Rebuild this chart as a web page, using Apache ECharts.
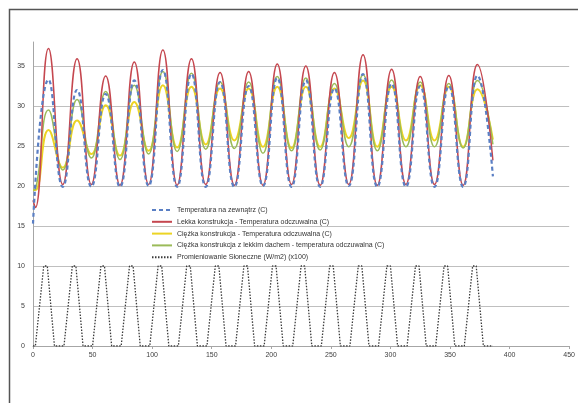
<!DOCTYPE html>
<html>
<head>
<meta charset="utf-8">
<script src="https://cdn.jsdelivr.net/npm/echarts@6/dist/echarts.min.js"></script>
<style>html,body{margin:0;padding:0;background:#fff;}#c{width:578px;height:403px;}</style>
</head>
<body>
<div id="c"></div>
<script>
// ---- data ----
const seriesNames = [
  'Temperatura na zewnątrz (C)',
  'Lekka konstrukcja - Temperatura odczuwalna (C)',
  'Ciężka konstrukcja - Temperatura odczuwalna (C)',
  'Ciężka konstrukcja z lekkim dachem - temperatura odczuwalna (C)',
  'Promieniowanie Słoneczne (W/m2) (x100)'
];
const xTicks = [0, 50, 100, 150, 200, 250, 300, 350, 400, 450];
const yTicks = [0, 5, 10, 15, 20, 25, 30, 35];

// hours of daily maxima and minima
const peakHours   = [13, 37, 61, 85, 109, 133, 157, 181, 205, 229, 253, 277, 301, 325, 349, 373];
const troughHours = [25, 49, 73, 97, 121, 145, 169, 193, 217, 241, 265, 289, 313, 337, 361];

// outdoor temperature
const outStart   = [[0, 15.3]];
const outPeaks   = [33.3, 32.0, 31.5, 33.2, 34.5, 34.0, 33.0, 32.5, 33.5, 33.2, 32.2, 34.0, 32.8, 32.5, 32.5, 33.8];
const outTroughs = [19.9, 19.9, 19.9, 20.0, 19.9, 19.9, 19.9, 20.0, 19.9, 19.9, 20.0, 19.9, 19.9, 19.9, 19.9];
const outEnd     = [[386, 21.2]];

// light construction
const lightStart   = [[0, 18.2], [2, 17.3]];
const lightPeaks   = [37.2, 35.9, 33.75, 35.5, 37.0, 35.9, 34.2, 34.3, 35.25, 35.0, 34.2, 36.4, 34.6, 33.7, 33.8, 35.2];
const lightTroughs = [20.2, 20.2, 20.1, 20.2, 20.1, 20.2, 20.1, 20.1, 20.2, 20.1, 20.2, 20.1, 20.2, 20.2, 20.1];
const lightEnd     = [[386, 23.2]];

// heavy construction
const heavyStart   = [[0, 19.5], [2, 19.5]];
const heavyPeaks   = [27.0, 28.2, 30.1, 30.5, 32.6, 32.4, 32.2, 32.2, 32.4, 32.4, 32.2, 33.2, 32.4, 32.6, 32.4, 32.1];
const heavyTroughs = [22.3, 24.0, 23.8, 24.4, 24.8, 25.2, 25.7, 24.9, 24.75, 24.9, 26.0, 24.9, 25.7, 25.7, 24.9];
const heavyEnd     = [[386, 25.8]];

// heavy construction with light roof
const roofStart   = [[0, 19.5], [2, 19.6]];
const roofPeaks   = [29.5, 30.8, 31.8, 32.6, 34.3, 34.1, 33.0, 33.0, 33.7, 33.5, 32.8, 33.9, 33.25, 33.0, 32.8, 33.2];
const roofTroughs = [22.0, 23.5, 23.3, 24.0, 24.3, 24.6, 24.7, 24.1, 24.4, 24.5, 24.9, 24.4, 24.9, 24.9, 24.75];
const roofEnd     = [[386, 25.2]];

// solar radiation (x100 W/m2)
const solarX = [0,
  2, 9, 12, 18,   26, 33, 36, 42,   50, 57, 60, 66,   74, 81, 84, 90,
  98, 105, 108, 114,   122, 129, 132, 138,   146, 153, 156, 162,   170, 177, 180, 186,
  194, 201, 204, 210,   218, 225, 228, 234,   242, 249, 252, 258,   266, 273, 276, 282,
  290, 297, 300, 306,   314, 321, 324, 330,   338, 345, 348, 354,   362, 369, 372, 378,
  386];
const solarY = [0,
  0, 10, 10, 0,   0, 10, 10, 0,   0, 10, 10, 0,   0, 10, 10, 0,
  0, 10, 10, 0,   0, 10, 10, 0,   0, 10, 10, 0,   0, 10, 10, 0,
  0, 10, 10, 0,   0, 10, 10, 0,   0, 10, 10, 0,   0, 10, 10, 0,
  0, 10, 10, 0,   0, 10, 10, 0,   0, 10, 10, 0,   0, 10, 10, 0,
  0];

// ---- build series data ----
function build(start, peaks, troughs, end) {
  const out = start.slice();
  for (let i = 0; i < peaks.length; i++) {
    out.push([peakHours[i], peaks[i]]);
    if (i < troughs.length) out.push([troughHours[i], troughs[i]]);
  }
  return out.concat(end);
}
const solarData = solarX.map((x, i) => [x, solarY[i]]);

const chart = echarts.init(document.getElementById('c'), null, { renderer: 'canvas' });
const lbl = { color: '#404040', fontSize: 7, fontFamily: 'Liberation Sans' };
chart.setOption({
  backgroundColor: '#ffffff',
  animation: false,
  graphic: [{
    type: 'rect', left: 7, top: 7, shape: { width: 640, height: 480 },
    style: { fill: 'none', stroke: '#555', lineWidth: 1.5 }, silent: true, z: -1
  }],
  grid: { left: 33, right: 8, top: 42, bottom: 57 },
  legend: {
    orient: 'vertical', left: 146, top: 201,
    itemWidth: 20, itemHeight: 6, itemGap: 3.8,
    itemStyle: { opacity: 0 },
    backgroundColor: 'transparent',
    textStyle: { color: '#333', fontSize: 7, lineHeight: 8, fontFamily: 'Liberation Sans' },
    data: seriesNames
  },
  xAxis: {
    type: 'value', min: 0, max: 450, interval: 50,
    axisLine: { show: true, lineStyle: { color: '#a6a6a6', width: 1 } },
    axisTick: { show: true, length: 3, lineStyle: { color: '#a6a6a6' } },
    axisLabel: Object.assign({ margin: 6 }, lbl),
    splitLine: { show: false }
  },
  yAxis: {
    type: 'value', min: 0, max: 38, interval: 5,
    axisLine: { show: true, lineStyle: { color: '#a6a6a6', width: 1 } },
    axisTick: { show: false },
    axisLabel: Object.assign({ margin: 8, showMaxLabel: false }, lbl),
    splitLine: { show: true, showMaxLine: false, lineStyle: { color: '#bfbfbf', width: 1 } }
  },
  series: [
    { name: seriesNames[0], type: 'line', data: build(outStart, outPeaks, outTroughs, outEnd),
      smooth: 0.5, symbol: 'none', z: 5,
      lineStyle: { color: '#5a7fc4', width: 2.2, type: [4, 3] }, itemStyle: { color: '#5a7fc4' } },
    { name: seriesNames[1], type: 'line', data: build(lightStart, lightPeaks, lightTroughs, lightEnd),
      smooth: 0.5, symbol: 'none', z: 4,
      lineStyle: { color: '#c5474f', width: 1.5 }, itemStyle: { color: '#c5474f' } },
    { name: seriesNames[2], type: 'line', data: build(heavyStart, heavyPeaks, heavyTroughs, heavyEnd),
      smooth: 0.5, symbol: 'none', z: 3,
      lineStyle: { color: '#ecd424', width: 2 }, itemStyle: { color: '#ecd424' } },
    { name: seriesNames[3], type: 'line', data: build(roofStart, roofPeaks, roofTroughs, roofEnd),
      smooth: 0.5, symbol: 'none', z: 3,
      lineStyle: { color: '#9bbb59', width: 1.5 }, itemStyle: { color: '#9bbb59' } },
    { name: seriesNames[4], type: 'line', data: solarData,
      smooth: false, symbol: 'none', z: 2,
      lineStyle: { color: '#3a3a3a', width: 1.3, type: [1.5, 1.5] }, itemStyle: { color: '#3a3a3a' } }
  ]
});
</script>
</body>
</html>
